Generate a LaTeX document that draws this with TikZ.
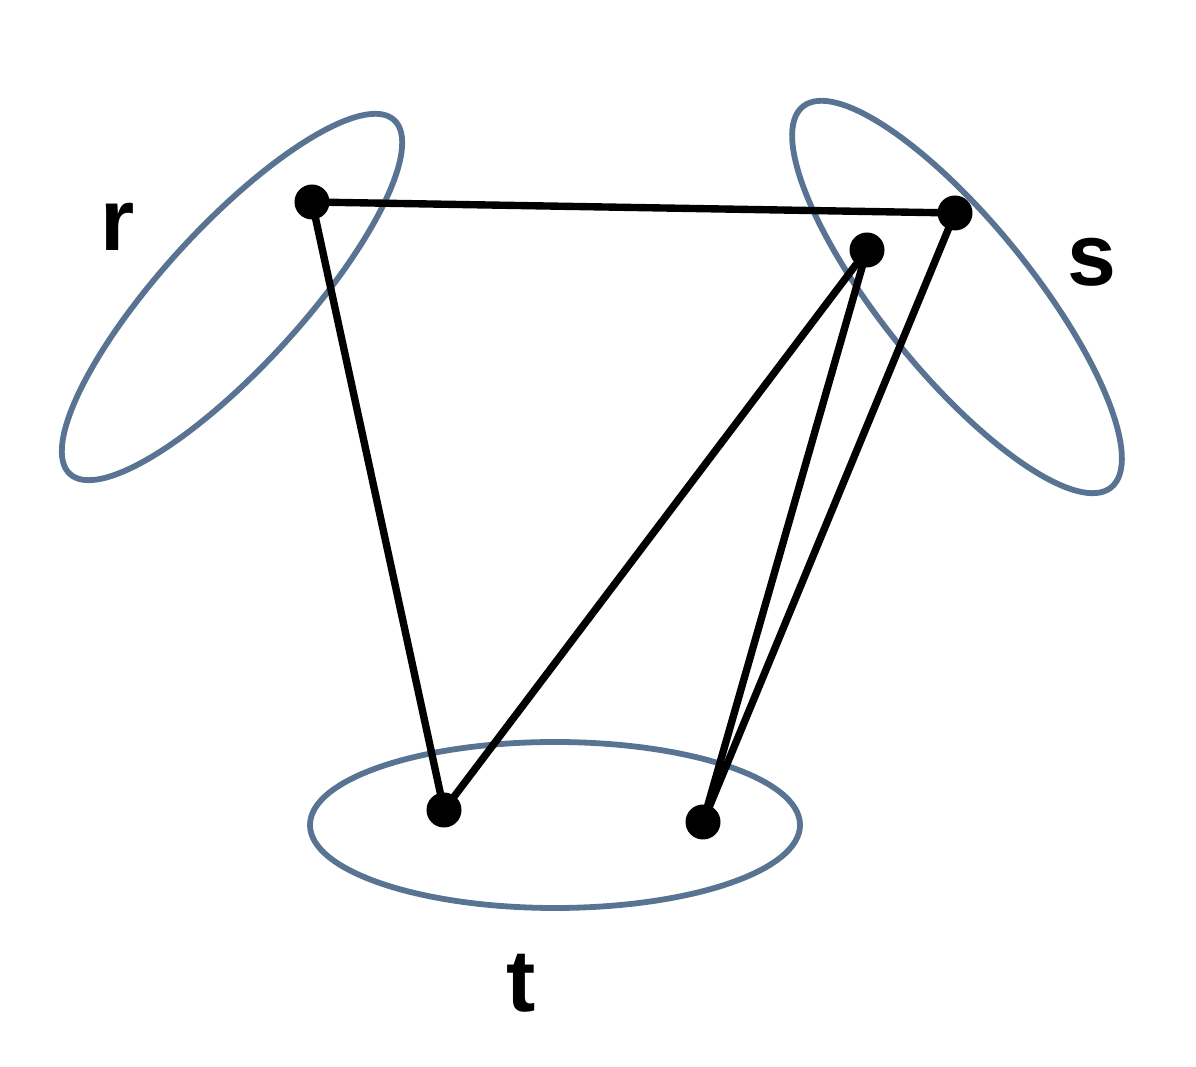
\documentclass[tikz,border=0pt]{standalone}
\usepackage{fontspec}
\setmainfont{Liberation Sans}
\definecolor{setblue}{RGB}{88,116,146}
\begin{document}
\begin{tikzpicture}[x=0.02cm,y=0.02cm,
  vertex/.style={circle,fill=black,draw=none,inner sep=0pt,minimum size=0.7cm},
  edge/.style={line width=4.2pt,black},
  setline/.style={line width=3.3pt,setblue},
  lab/.style={font=\fontsize{50}{58}\selectfont\bfseries}]
\useasboundingbox (0,0) rectangle (1196,1067);
% sets
\draw[setline,rotate around={47.5:(232,770)}] (232,770) ellipse (240 and 70);
\draw[setline,rotate around={-51:(957,770)}] (957,770) ellipse (245 and 75);
\draw[setline] (555,242) ellipse (245 and 83);
% vertices
\node[vertex] (r) at (312,865) {};
\node[vertex] (s1) at (955,854) {};
\node[vertex] (s2) at (867,817) {};
\node[vertex] (t1) at (444,257) {};
\node[vertex] (t2) at (703,245) {};
% edges
\draw[edge] (r.center) -- (s1.center);
\draw[edge] (r.center) -- (t1.center);
\draw[edge] (t1.center) -- (s2.center);
\draw[edge] (t2.center) -- (s2.center);
\draw[edge] (t2.center) -- (s1.center);
% labels
\node[lab] (lr) at (118,840) {r};
\node[lab] (ls) at (1092,805) {s};
\node[lab] (lt) at (521,84) {t};
\end{tikzpicture}
\end{document}
